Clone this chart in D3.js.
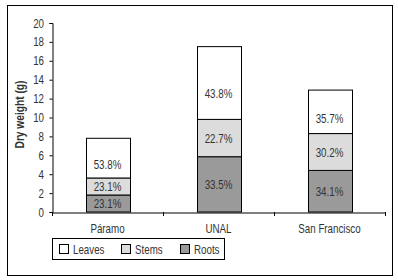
<!DOCTYPE html>
<html><head><meta charset="utf-8">
<script src="https://cdn.jsdelivr.net/npm/d3@7"></script>
<style>
html,body{margin:0;padding:0;background:#fff;}
svg{display:block;}
text{font-family:"Liberation Sans",Arial,sans-serif;fill:#333;}
</style></head><body>
<script>
const categories = ["Páramo", "UNAL", "San Francisco"];
const seriesNames = ["Roots", "Stems", "Leaves"];
const roots = [1.8, 5.85, 4.4];
const stems = [1.8, 3.95, 3.9];
const leaves = [4.2, 7.7, 4.6];
const rootsLabels = ["23.1%", "33.5%", "34.1%"];
const stemsLabels = ["23.1%", "22.7%", "30.2%"];
const leavesLabels = ["53.8%", "43.8%", "35.7%"];
const yTicks = [0, 2, 4, 6, 8, 10, 12, 14, 16, 18, 20];
const colors = ["#9a9a9a", "#dcdcdc", "#ffffff"];

const W = 398, H = 280;
const SX = 0.75; // condensed look
const svg = d3.select("body").append("svg").attr("width", W).attr("height", H);

function ctext(parent, x0, y0, str, size, anchor, opts = {}) {
  const gg = parent.append("g").attr("transform", `translate(${x0},${y0}) ${opts.rotate ? "rotate(" + opts.rotate + ")" : ""} scale(${opts.sx || SX},1)`);
  const t = gg.append("text").attr("x", 0).attr("y", 0).attr("dy", "0.35em")
    .attr("text-anchor", anchor).attr("font-size", size).text(str);
  if (opts.bold) t.attr("font-weight", "bold");
  if (opts.fill) t.attr("fill", opts.fill);
  return t;
}

// outer frame
svg.append("rect").attr("x", 7.5).attr("y", 5.5).attr("width", 385).attr("height", 270)
  .attr("fill", "none").attr("stroke", "#000").attr("stroke-width", 1);

const mLeft = 52, mRight = 385, mTop = 23, mBottom = 212;
const x = d3.scaleBand().domain(categories).range([mLeft, mRight]).paddingInner(0).paddingOuter(0);
const y = d3.scaleLinear().domain([0, 20]).range([mBottom, mTop]);

const rows = categories.map((c, i) => ({cat: c, Roots: roots[i], Stems: stems[i], Leaves: leaves[i]}));
const stack = d3.stack().keys(seriesNames)(rows);
const labels = {Roots: rootsLabels, Stems: stemsLabels, Leaves: leavesLabels};

const barW = 44;
const g = svg.append("g");
stack.forEach((layer, li) => {
  layer.forEach((d, i) => {
    const cx = x(categories[i]) + x.bandwidth() / 2;
    g.append("rect")
      .attr("x", Math.round(cx - barW / 2) + 0.5)
      .attr("y", y(d[1]))
      .attr("width", barW)
      .attr("height", y(d[0]) - y(d[1]))
      .attr("fill", colors[li]).attr("stroke", "#000").attr("stroke-width", 1);
  });
});
stack.forEach((layer, li) => {
  layer.forEach((d, i) => {
    const cx = x(categories[i]) + x.bandwidth() / 2;
    const frac = layer.key === "Leaves" ? 0.35 : 0.5;
    const v = d[0] + (d[1] - d[0]) * frac;
    ctext(g, cx, y(v), labels[layer.key][i], 13, "middle");
  });
});

// y axis
const yAxis = svg.append("g").attr("transform", `translate(${mLeft + 0.5},0)`)
  .call(d3.axisLeft(y).tickValues(yTicks).tickSize(3).tickPadding(3));
yAxis.selectAll("path,line").attr("stroke", "#000");
yAxis.selectAll("text").remove();
yTicks.forEach(v => ctext(svg, mLeft - 8, y(v), String(v), 13, "end"));

// x axis
const xAxis = svg.append("g").attr("transform", `translate(0,${mBottom + 0.5})`)
  .call(d3.axisBottom(x).tickSize(0));
xAxis.select(".domain").attr("stroke", "#000");
xAxis.selectAll("text").remove();
categories.forEach(c => ctext(svg, x(c) + x.bandwidth() / 2, mBottom + 16, c, 13, "middle"));
// boundary ticks
const bounds = categories.map(c => x(c)).concat([x(categories[categories.length - 1]) + x.bandwidth()]);
svg.append("g").selectAll("line").data(bounds).join("line")
  .attr("x1", d => Math.round(d) + 0.5).attr("x2", d => Math.round(d) + 0.5)
  .attr("y1", mBottom).attr("y2", mBottom + 4).attr("stroke", "#000");

// y title
ctext(svg, 20, (mTop + mBottom) / 2 - 3, "Dry weight (g)", 12, "middle", {rotate: -90, sx: 0.85, bold: true, fill: "#000"});

// legend
const lg = svg.append("g");
lg.append("rect").attr("x", 52.5).attr("y", 238.5).attr("width", 172).attr("height", 21)
  .attr("fill", "#fff").attr("stroke", "#000");
const legendOrder = ["Leaves", "Stems", "Roots"];
const legendX = [59, 121, 180];
legendOrder.forEach((k, i) => {
  const ci = seriesNames.indexOf(k);
  lg.append("rect").attr("x", legendX[i] + 0.5).attr("y", 244.5).attr("width", 9).attr("height", 9)
    .attr("fill", colors[ci]).attr("stroke", "#000");
  ctext(lg, legendX[i] + 14, 249.5, k, 13, "start");
});
</script>
</body></html>
